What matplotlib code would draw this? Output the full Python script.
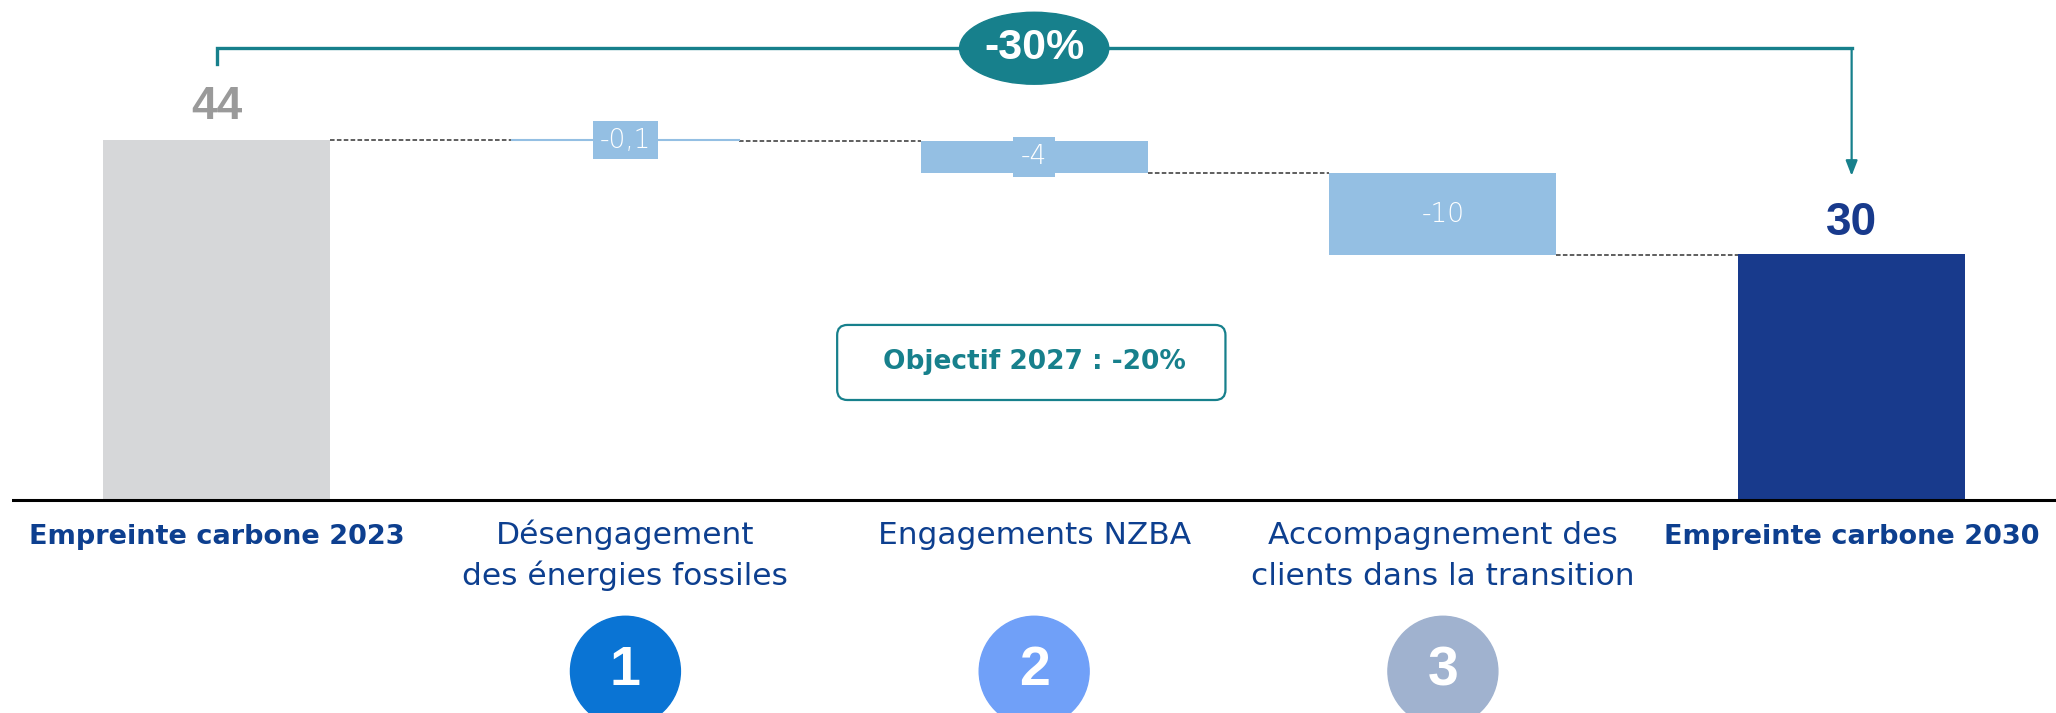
import numpy as np
import matplotlib.pyplot as plt
from matplotlib.patches import Ellipse, FancyBboxPatch

# data
categories = ["Empreinte carbone 2023", "Désengagement\ndes énergies fossiles",
              "Engagements NZBA", "Accompagnement des\nclients dans la transition",
              "Empreinte carbone 2030"]
start_value = 44
deltas = [-0.1, -4, -10]
end_value = 30
delta_labels = ["-0,1", "-4", "-10"]
step_numbers = ["1", "2", "3"]
total_label = "-30%"
target_label = "Objectif 2027 : -20%"

# colours
grey = "#d6d7d9"
light = "#94bfe3"
navy = "#183a8c"
teal = "#17808c"
label_blue = "#0d3f8f"
step_colors = ["#0a74d4", "#70a0f8", "#a0b2cf"]
num_font = ["Liberation Sans", "DejaVu Sans"]

fig = plt.figure(figsize=(20.56, 7.13), dpi=100)
ax = fig.add_axes([0.006, 0, 0.994, 1])
ax.set_xlim(-0.5, 4.5)
ax.set_ylim(-26.1, 61.1)
ax.axis("off")

w = 0.555
x = np.arange(len(categories))
levels = start_value + np.cumsum([0] + deltas)   # 44, 43.9, 39.9, 29.9

ax.bar(x[0], start_value, w, color=grey)
ax.bar(x[1:4], deltas, w, bottom=levels[:-1], color=light)
ax.bar(x[4], end_value, w, color=navy)

# dashed connectors between bars
for i in range(4):
    ax.plot([x[i] + w / 2, x[i + 1] - w / 2], [levels[i], levels[i]],
            color="#333333", lw=1.1, ls=(0, (3, 1.5)))
# the -0,1 step is almost flat: draw it as a thin line
ax.plot([x[1] - w / 2, x[1] + w / 2], [levels[0], levels[0]], color=light, lw=1.5)

ax.axhline(0, color="black", lw=2.2)

# value labels
pads = ["square,pad=0.25", "square,pad=0.3", "square,pad=0.25"]
for i, lab in enumerate(delta_labels):
    ax.text(x[i + 1], levels[i] + deltas[i] / 2, lab, ha="center", va="center",
            color="white", fontsize=19, fontweight="light",
            bbox=dict(boxstyle=pads[i], fc=light, ec="none"))
ax.text(x[0], start_value + 4, str(start_value), ha="center", va="center",
        color="#9a9a9a", fontsize=33, fontweight="bold", family=num_font)
ax.text(x[4], end_value + 3.8, str(end_value), ha="center", va="center",
        color=navy, fontsize=33, fontweight="bold", family=num_font)

# category labels, one line at a time
for i, cat in enumerate(categories):
    bold = i in (0, len(categories) - 1)
    for j, line in enumerate(cat.split("\n")):
        ax.text(x[i], -5.45 - 5.02 * j, line, ha="center", va="baseline",
                color=label_blue, fontsize=19.5 if bold else 22.5,
                fontweight="bold" if bold else "normal")

# numbered circles
for i, (num, col) in enumerate(zip(step_numbers, step_colors)):
    ax.add_patch(Ellipse((x[i + 1], -21.0), 0.269, 13.46, color=col, clip_on=False))
    ax.text(x[i + 1], -21.0, num, ha="center", va="center", color="white",
            fontsize=40, fontweight="bold", family=num_font)

# -30% bracket
ax.plot([x[0], x[0], x[4]], [53.3, 55.2, 55.2], color=teal, lw=2.4,
        solid_joinstyle="miter")
ax.annotate("", xy=(x[4], 39.6), xytext=(x[4], 55.2),
            arrowprops=dict(arrowstyle="-|>,head_length=0.9,head_width=0.35",
                            color=teal, lw=1.6, shrinkA=0, shrinkB=0))
ax.add_patch(Ellipse((2, 55.2), 0.365, 8.8, color=teal))
ax.text(2, 55.2, total_label, ha="center", va="center", color="white",
        fontsize=31, fontweight="bold", family=num_font)

# 2027 target box
ax.add_patch(FancyBboxPatch((1.518, 12.18), 0.95, 9.18,
                            boxstyle="round,pad=0,rounding_size=0.025",
                            mutation_aspect=50, fc="white", ec=teal, lw=1.6))
ax.text(2, 16.8, target_label, ha="center", va="center", color=teal,
        fontsize=19, fontweight="bold")

fig.savefig("out.png", dpi=100)
